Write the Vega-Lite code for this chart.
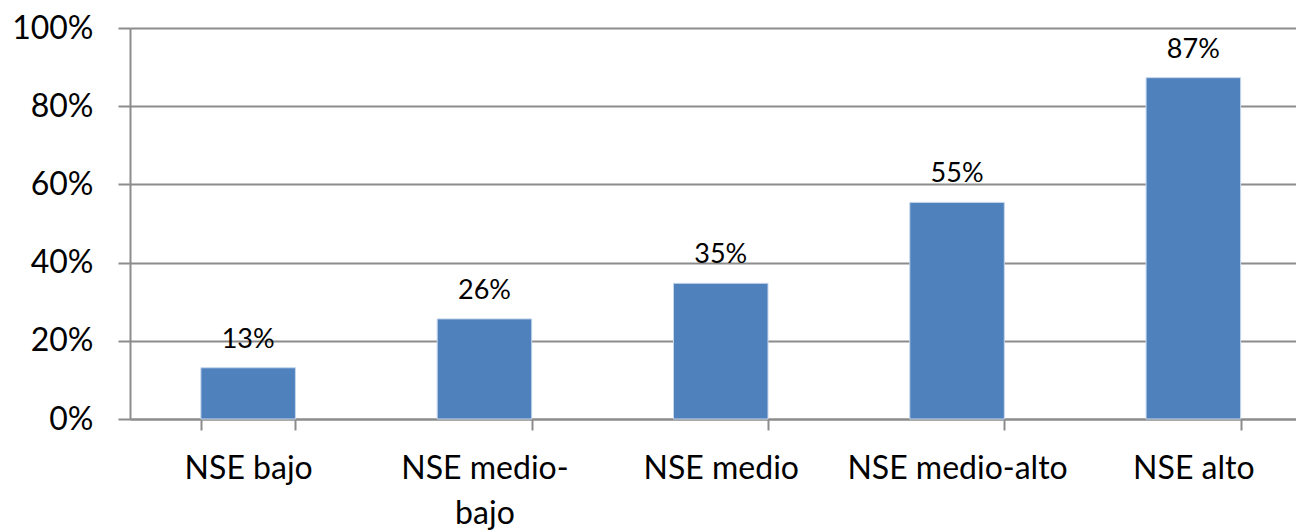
{
  "$schema": "https://vega.github.io/schema/vega-lite/v6.json",
  "autosize": {"type": "none"},
  "width": 1166,
  "height": 391,
  "padding": {"left": 130, "top": 28, "right": 0, "bottom": 111},
  "background": "white",
  "config": {
    "view": {"stroke": null},
    "font": "Lato"
  },
  "data": {
    "values": [
      {"nse": "NSE bajo", "valor": 0.131},
      {"nse": "NSE medio-bajo", "valor": 0.256},
      {"nse": "NSE medio", "valor": 0.347},
      {"nse": "NSE medio-alto", "valor": 0.554},
      {"nse": "NSE alto", "valor": 0.873}
    ]
  },
  "encoding": {
    "x": {
      "field": "nse",
      "type": "nominal",
      "sort": null,
      "scale": {"range": [0, 1181.5], "paddingInner": 0.6, "paddingOuter": 0.3},
      "axis": {
        "title": null,
        "labelAngle": 0,
        "labelFont": "Lato",
        "labelFontSize": 32,
        "labelColor": "#000000",
        "labelBaseline": "alphabetic",
        "labelPadding": 48,
        "labelLineHeight": 45,
        "labelLimit": 0,
        "labelExpr": "datum.label == 'NSE medio-bajo' ? ['NSE medio-', 'bajo'] : datum.label",
        "tickBand": "extent",
        "tickSize": 11,
        "tickWidth": 2,
        "tickColor": "#8c8c8c",
        "domainColor": "#8c8c8c",
        "domainWidth": 2,
        "grid": false,
        "labelOverlap": false,
        "labelBound": false
      }
    },
    "y": {
      "field": "valor",
      "type": "quantitative",
      "scale": {"domain": [0, 1], "nice": false},
      "axis": {
        "title": null,
        "values": [0, 0.2, 0.4, 0.6, 0.8, 1],
        "format": ".0%",
        "labelFont": "Lato",
        "labelFontSize": 32,
        "labelColor": "#000000",
        "labelPadding": 25,
        "tickSize": 12,
        "tickWidth": 2,
        "tickColor": "#8c8c8c",
        "domainColor": "#8c8c8c",
        "domainWidth": 2,
        "grid": true,
        "gridColor": "#8c8c8c",
        "gridWidth": 2,
        "gridOpacity": 1
      }
    }
  },
  "layer": [
    {
      "mark": {"type": "bar", "color": "#4f81bd", "stroke": "#c6d6ec", "strokeWidth": 1}
    },
    {
      "mark": {"type": "text", "baseline": "alphabetic", "dy": -20, "fontSize": 27, "font": "Lato", "color": "#000000"},
      "encoding": {
        "text": {"field": "valor", "type": "quantitative", "format": ".0%"}
      }
    }
  ]
}
